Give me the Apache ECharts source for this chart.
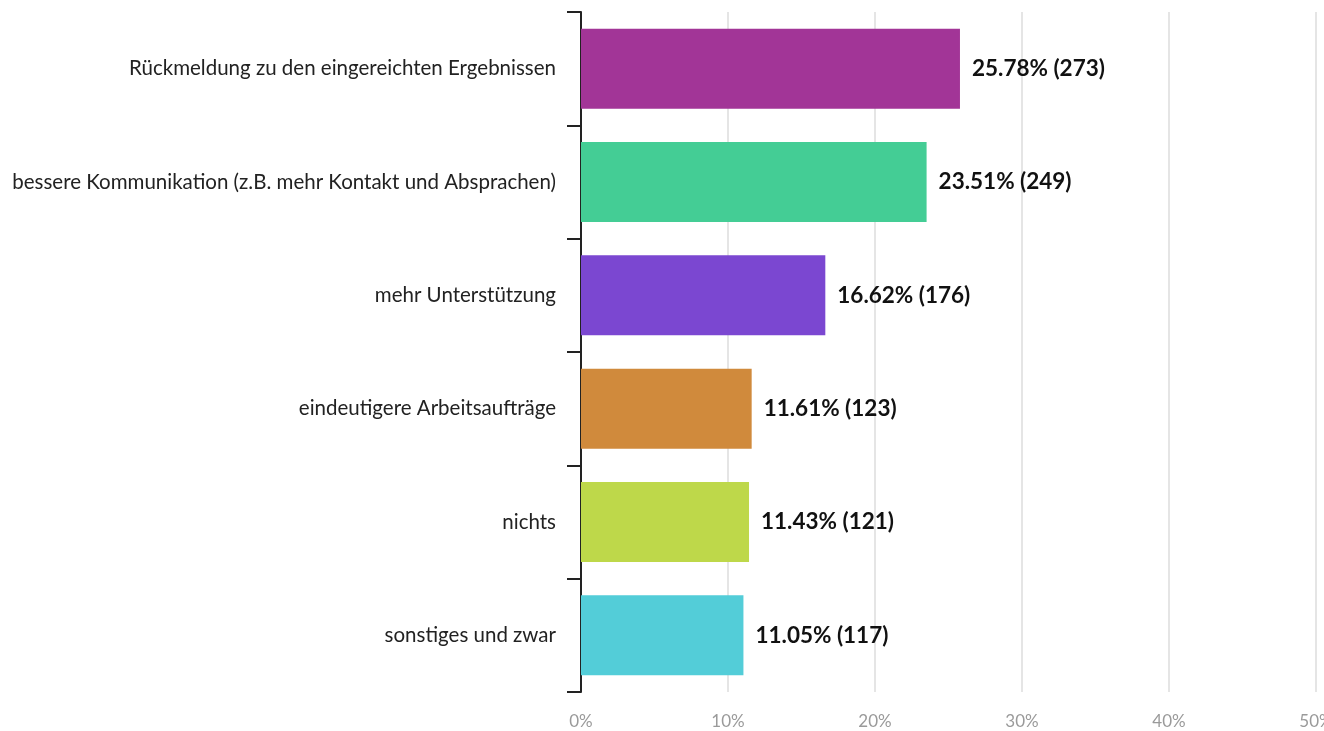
<!DOCTYPE html>
<html>
<head>
<meta charset="utf-8">
<script src="https://cdn.jsdelivr.net/npm/echarts@6/dist/echarts.min.js"></script>
<style>
html,body{margin:0;padding:0;background:#fff;overflow:hidden;}
#chart{width:1324px;height:731px;}
</style>
</head>
<body>
<div id="chart"></div>
<script>
const categories = [
  "Rückmeldung zu den eingereichten Ergebnissen",
  "bessere Kommunikation (z.B. mehr Kontakt und Absprachen)",
  "mehr Unterstützung",
  "eindeutigere Arbeitsaufträge",
  "nichts",
  "sonstiges und zwar"
];
const percents = [25.78, 23.51, 16.62, 11.61, 11.43, 11.05];
const counts = [273, 249, 176, 123, 121, 117];
const barColors = ["#A23597", "#44CD95", "#7B47D1", "#D08A3C", "#BED84A", "#53CDD8"];
const xTicks = [0, 10, 20, 30, 40, 50];

const chart = echarts.init(document.getElementById('chart'), null, { width: 1324, height: 731 });
chart.setOption({
  animation: false,
  grid: { left: 581, width: 735, top: 12, height: 680, containLabel: false, outerBoundsMode: 'none' },
  xAxis: {
    type: 'value', min: xTicks[0], max: xTicks[xTicks.length - 1], interval: 10,
    axisLine: { show: false }, axisTick: { show: false },
    splitLine: { show: true, lineStyle: { color: '#dcdcdc', width: 1.5 } },
    axisLabel: { formatter: '{value}%', color: '#9a9a9a', fontFamily: 'Lato', fontSize: 17, margin: 21 }
  },
  yAxis: {
    type: 'category', data: categories, inverse: true,
    axisLine: { show: true, lineStyle: { color: '#222', width: 2 } },
    axisTick: { show: true, length: 14, lineStyle: { color: '#222', width: 2 } },
    axisLabel: { color: '#222', fontFamily: 'Lato', fontSize: 20.5, margin: 25 }
  },
  series: [{
    type: 'bar',
    barWidth: 80,
    data: percents.map((v, i) => ({ value: v, itemStyle: { color: barColors[i] } })),
    label: {
      show: true, position: 'right', distance: 12,
      fontFamily: 'Lato', fontSize: 22.5, fontWeight: 'bold', color: '#111',
      formatter: p => percents[p.dataIndex].toFixed(2) + '% (' + counts[p.dataIndex] + ')'
    }
  }]
});
</script>
</body>
</html>
